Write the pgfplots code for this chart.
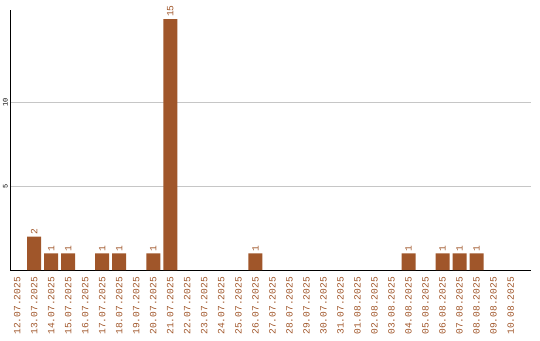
\documentclass[border=0pt]{standalone}
\usepackage{fontspec}
\setmainfont{Liberation Mono}
\setmonofont{Liberation Mono}
\usepackage{pgfplots}
\pgfplotsset{compat=1.18}
\definecolor{barc}{HTML}{A0562A}
\begin{document}
\begin{tikzpicture}[x=1bp,y=1bp]
\useasboundingbox (0,0) rectangle (540,340);
\begin{axis}[
  at={(10bp,70bp)}, anchor=south west,
  scale only axis, width=521bp, height=260bp,
  xmin=-0.42, xmax=30.2, ymin=0, ymax=15.55,
  axis x line*=bottom, axis y line*=left,
  axis line style={black, line width=0.8pt, -},
  ytick={5,10}, yticklabels={5,10},
  ymajorgrids, grid style={gray!45, line width=0.6pt},
  major tick length=0pt,
  yticklabel style={rotate=90, font=\fontsize{7}{7}\selectfont, anchor=south, inner sep=0pt},
  yticklabel shift=2bp,
  xtick={0,...,29},
  xticklabels={12.07.2025,13.07.2025,14.07.2025,15.07.2025,16.07.2025,17.07.2025,18.07.2025,19.07.2025,20.07.2025,21.07.2025,22.07.2025,23.07.2025,24.07.2025,25.07.2025,26.07.2025,27.07.2025,28.07.2025,29.07.2025,30.07.2025,31.07.2025,01.08.2025,02.08.2025,03.08.2025,04.08.2025,05.08.2025,06.08.2025,07.08.2025,08.08.2025,09.08.2025,10.08.2025},
  xticklabel style={rotate=90, anchor=east, font=\fontsize{9.6}{9.6}\selectfont, text=barc, inner sep=0pt},
  xticklabel shift=7bp,
  clip=false,
]
\addplot[ybar, bar width=14bp, fill=barc, draw=none,
  nodes near coords={\pgfplotspointmeta},
  nodes near coords style={rotate=90, anchor=west, text=barc, font=\fontsize{9.6}{9.6}\selectfont, inner sep=0pt, xshift=2bp},
  point meta=explicit symbolic]
coordinates {
(1,2) [2] (2,1) [1] (3,1) [1] (5,1) [1] (6,1) [1] (8,1) [1] (9,15) [15] (14,1) [1] (23,1) [1] (25,1) [1] (26,1) [1] (27,1) [1]
};
\end{axis}
\end{tikzpicture}
\end{document}
